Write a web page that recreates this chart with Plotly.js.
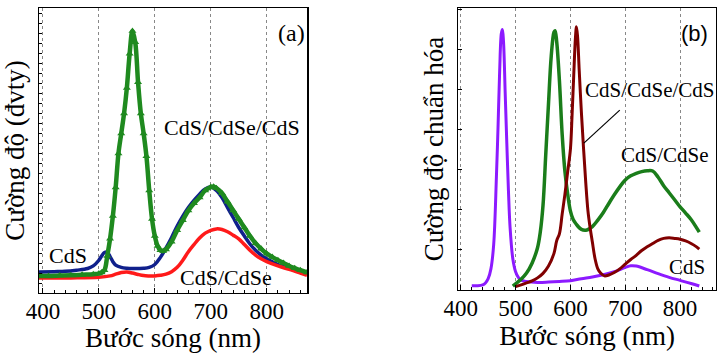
<!DOCTYPE html>
<html><head><meta charset="utf-8">
<script src="https://cdn.plot.ly/plotly-3.0.1.min.js"></script>
<style>html,body{margin:0;padding:0;background:#fff}#c{width:717px;height:353px}</style>
</head><body><div id="c"></div>
<script>
// Panel (a): intensity (arb. units)
const aCdS_x = [393,420,440,460,480,490,500,505,510,515,520,525,530,540,550,560,580,590,600,610,620,630,640,650,660,670,680,690,700,710,720,730,740,750,760,770,780,790,800,820,840,860,872];
const aCdS_y = [7.4,7.5,7.6,8.0,8.6,9.5,11.5,13,14.2,14.3,12.8,11,9.8,9,8.7,8.6,8.7,9.0,10,12.5,15.8,19.5,23.5,27,30,32.5,34.7,36.5,37.2,36,33.5,30,26.5,23,20,17.2,15,13.3,12,10,8.7,7.5,6.8];

const aCdSe_x = [393,450,500,520,530,540,550,560,570,580,590,600,610,620,630,640,650,660,670,680,690,700,710,720,730,740,750,760,770,780,790,800,820,840,860,872];
const aCdSe_y = [5.3,5.3,5.5,6,6.6,7.2,7.4,7.0,6.5,6.1,6.0,6.0,6.2,6.6,7.5,9,11.5,14.5,17,19.3,21,22,22.5,22.3,21.5,20.3,19,17,15,13.3,12,11,9.5,8.3,7,6.2];

const aCdSeCdS_x = [393,410,430,450,470,490,500,505,510,515,520,525,530,535,540,545,550,555,560,565,570,575,580,585,590,595,600,605,610,615,620,630,640,650,660,670,680,690,700,705,710,720,730,740,750,760,770,780,790,800,810,820,830,840,850,860,872];
const aCdSeCdS_y = [6.0,6.0,6.1,6.2,6.4,6.6,6.8,7.2,8,13,19,27,37,49,56,63,72,84,92,88,74,63,56,48,36,26,20,16.5,15,14.7,15.3,18,22,25.5,29,31.5,33.5,36,37.2,37.3,36.8,35,32,29,26,23,20,17.5,15.5,13.8,12.6,11.5,10.5,9.5,8.7,8,7.2];

// Panel (b): normalized intensity
const bCdS_x = [420,430,440,445,450,455,460,465,468,471,474,476,478,481,484,487,490,495,500,505,510,520,540,560,580,600,620,640,660,680,700,710,720,740,760,780,800,820,835];
const bCdS_y = [1.5,1.5,1.8,2.5,4,7.5,16,40,58,78,91,92.4,88,70,52,35,22,11,6.5,4.5,3.5,3,2.7,2.8,3.0,3.3,4.0,4.6,5.4,6.5,8.0,8.6,8.5,7.2,5.8,4.5,3.4,2.3,1.4];

const bCdSe_x = [495,500,510,520,530,540,545,550,555,560,565,570,572,575,580,585,590,595,600,605,610,620,630,640,650,660,670,680,690,700,710,720,730,740,750,760,770,780,790,800,810,820,835];
const bCdSe_y = [1.4,2.2,3.8,6,9.5,15,20.5,30,48,66,83,91.5,92,88,74,55,42,34,28,25,23.5,21.5,21.3,22.5,24.8,27.5,30.7,33.8,36.6,39,40.5,41.4,42,42.3,42.2,40,37,34.5,32,29.5,27.3,25,20.5];

const bCdSeCdS_x = [500,510,520,530,540,550,560,570,575,580,585,590,595,600,603,606,609,611,613,616,620,624,628,632,636,640,645,650,655,662,670,680,690,700,710,720,730,740,750,760,770,780,790,800,810,820,830,835];
const bCdSeCdS_y = [1.2,1.8,2.5,3.2,4.3,5.9,8.5,13,17.5,20,27,34,42,50,62,76,89,93.4,90,78,63,50,38,28,22,17,11,7.5,6,5,5.3,6.2,7.5,9.2,10.8,12.3,14,15.3,16.5,17.6,18.3,18.5,18.3,18,17.4,16.5,15.3,14.5];

const tickVals = [400,500,600,700,800];
const tickText = ['400','500','600','700','800'];

const serif = 'Liberation Serif';
const traces = [
  {x:aCdS_x, y:aCdS_y, xaxis:'x', yaxis:'y', mode:'lines', line:{color:'#10208c', width:3.5, shape:'spline'}, name:'CdS'},
  {x:aCdSe_x, y:aCdSe_y, xaxis:'x', yaxis:'y', mode:'lines', line:{color:'#ff1a1a', width:3.5, shape:'spline'}, name:'CdS/CdSe'},
  {x:aCdSeCdS_x, y:aCdSeCdS_y, xaxis:'x', yaxis:'y', mode:'lines+markers', line:{color:'#1f8a1f', width:4.5, shape:'spline'}, marker:{symbol:'triangle-up', size:7, color:'#1f8a1f'}, name:'CdS/CdSe/CdS'},
  {x:bCdS_x, y:bCdS_y, xaxis:'x2', yaxis:'y2', mode:'lines', line:{color:'#8c1aff', width:3, shape:'spline'}, name:'CdS'},
  {x:bCdSe_x, y:bCdSe_y, xaxis:'x2', yaxis:'y2', mode:'lines', line:{color:'#1a7d1a', width:3.5, shape:'spline'}, name:'CdS/CdSe'},
  {x:bCdSeCdS_x, y:bCdSeCdS_y, xaxis:'x2', yaxis:'y2', mode:'lines', line:{color:'#800000', width:3, shape:'spline'}, name:'CdS/CdSe/CdS'}
];

const xCommon = {
  tickvals:tickVals, ticktext:tickText, ticks:'inside', ticklen:5, tickcolor:'#000',
  showline:true, linecolor:'#000', linewidth:1.5, mirror:true,
  showgrid:true, gridcolor:'#888', griddash:'dot', gridwidth:1,
  zeroline:false, tickfont:{family:serif, size:23, color:'#000'}, ticklabelstandoff:-3,
  minor:{ticks:'inside', ticklen:3, dtick:20, tick0:400, tickcolor:'#000', showgrid:false},
  title:{text:'Bước sóng (nm)', font:{family:serif, size:27, color:'#000'}, standoff:0}
};
const yCommon = {
  range:[0,100], showticklabels:false, ticks:'inside', tickcolor:'#000',
  showline:true, linecolor:'#000', linewidth:1.5, mirror:true, showgrid:false, zeroline:false
};

const layout = {
  width:717, height:353, margin:{l:0,r:0,t:0,b:0}, showlegend:false,
  paper_bgcolor:'#fff', plot_bgcolor:'#fff',
  font:{family:serif},
  xaxis:Object.assign({}, xCommon, {domain:[0.0544,0.4282], range:[393,872], anchor:'y'}),
  yaxis:Object.assign({}, yCommon, {domain:[0.170,0.977], dtick:3.5, ticklen:3, anchor:'x',
    title:{text:'Cường độ (đvty)', font:{family:serif, size:27, color:'#000'}, standoff:5}}),
  xaxis2:Object.assign({}, xCommon, {domain:[0.6388,0.999], range:[395,866], anchor:'y2'}),
  yaxis2:Object.assign({}, yCommon, {domain:[0.1785,0.977], dtick:14.2, ticklen:4, anchor:'x2',
    title:{text:'Cường độ chuẩn hóa', font:{family:serif, size:27, color:'#000'}, standoff:5}}),
  annotations:[
    {xref:'x', yref:'y', x:844.6, y:91.2, text:'(a)', showarrow:false, font:{family:serif, size:24, color:'#000'}},
    {xref:'x', yref:'y', x:737.5, y:58.2, text:'CdS/CdSe/CdS', showarrow:false, font:{family:serif, size:22, color:'#000'}},
    {xref:'x', yref:'y', x:444.6, y:13.3, text:'CdS', showarrow:false, font:{family:serif, size:22, color:'#000'}},
    {xref:'x', yref:'y', x:726.8, y:5.6, text:'CdS/CdSe', showarrow:false, font:{family:serif, size:22, color:'#000'}},
    {xref:'x2', yref:'y2', x:827, y:91.1, text:'(b)', showarrow:false, font:{family:'Liberation Sans', size:22, color:'#000'}},
    {xref:'x2', yref:'y2', x:745, y:70.9, text:'CdS/CdSe/CdS', showarrow:false, font:{family:serif, size:21, color:'#000'}},
    {xref:'x2', yref:'y2', x:772, y:47.9, text:'CdS/CdSe', showarrow:false, font:{family:serif, size:21, color:'#000'}},
    {xref:'x2', yref:'y2', x:812, y:8.2, text:'CdS', showarrow:false, font:{family:serif, size:21, color:'#000'}}
  ],
  shapes:[
    {type:'line', xref:'x2', yref:'y2', x0:690, y0:63.8, x1:624.5, y1:52.1, line:{color:'#000', width:1.2}}
  ]
};
Plotly.newPlot('c', traces, layout, {displayModeBar:false, staticPlot:true});
</script></body></html>
